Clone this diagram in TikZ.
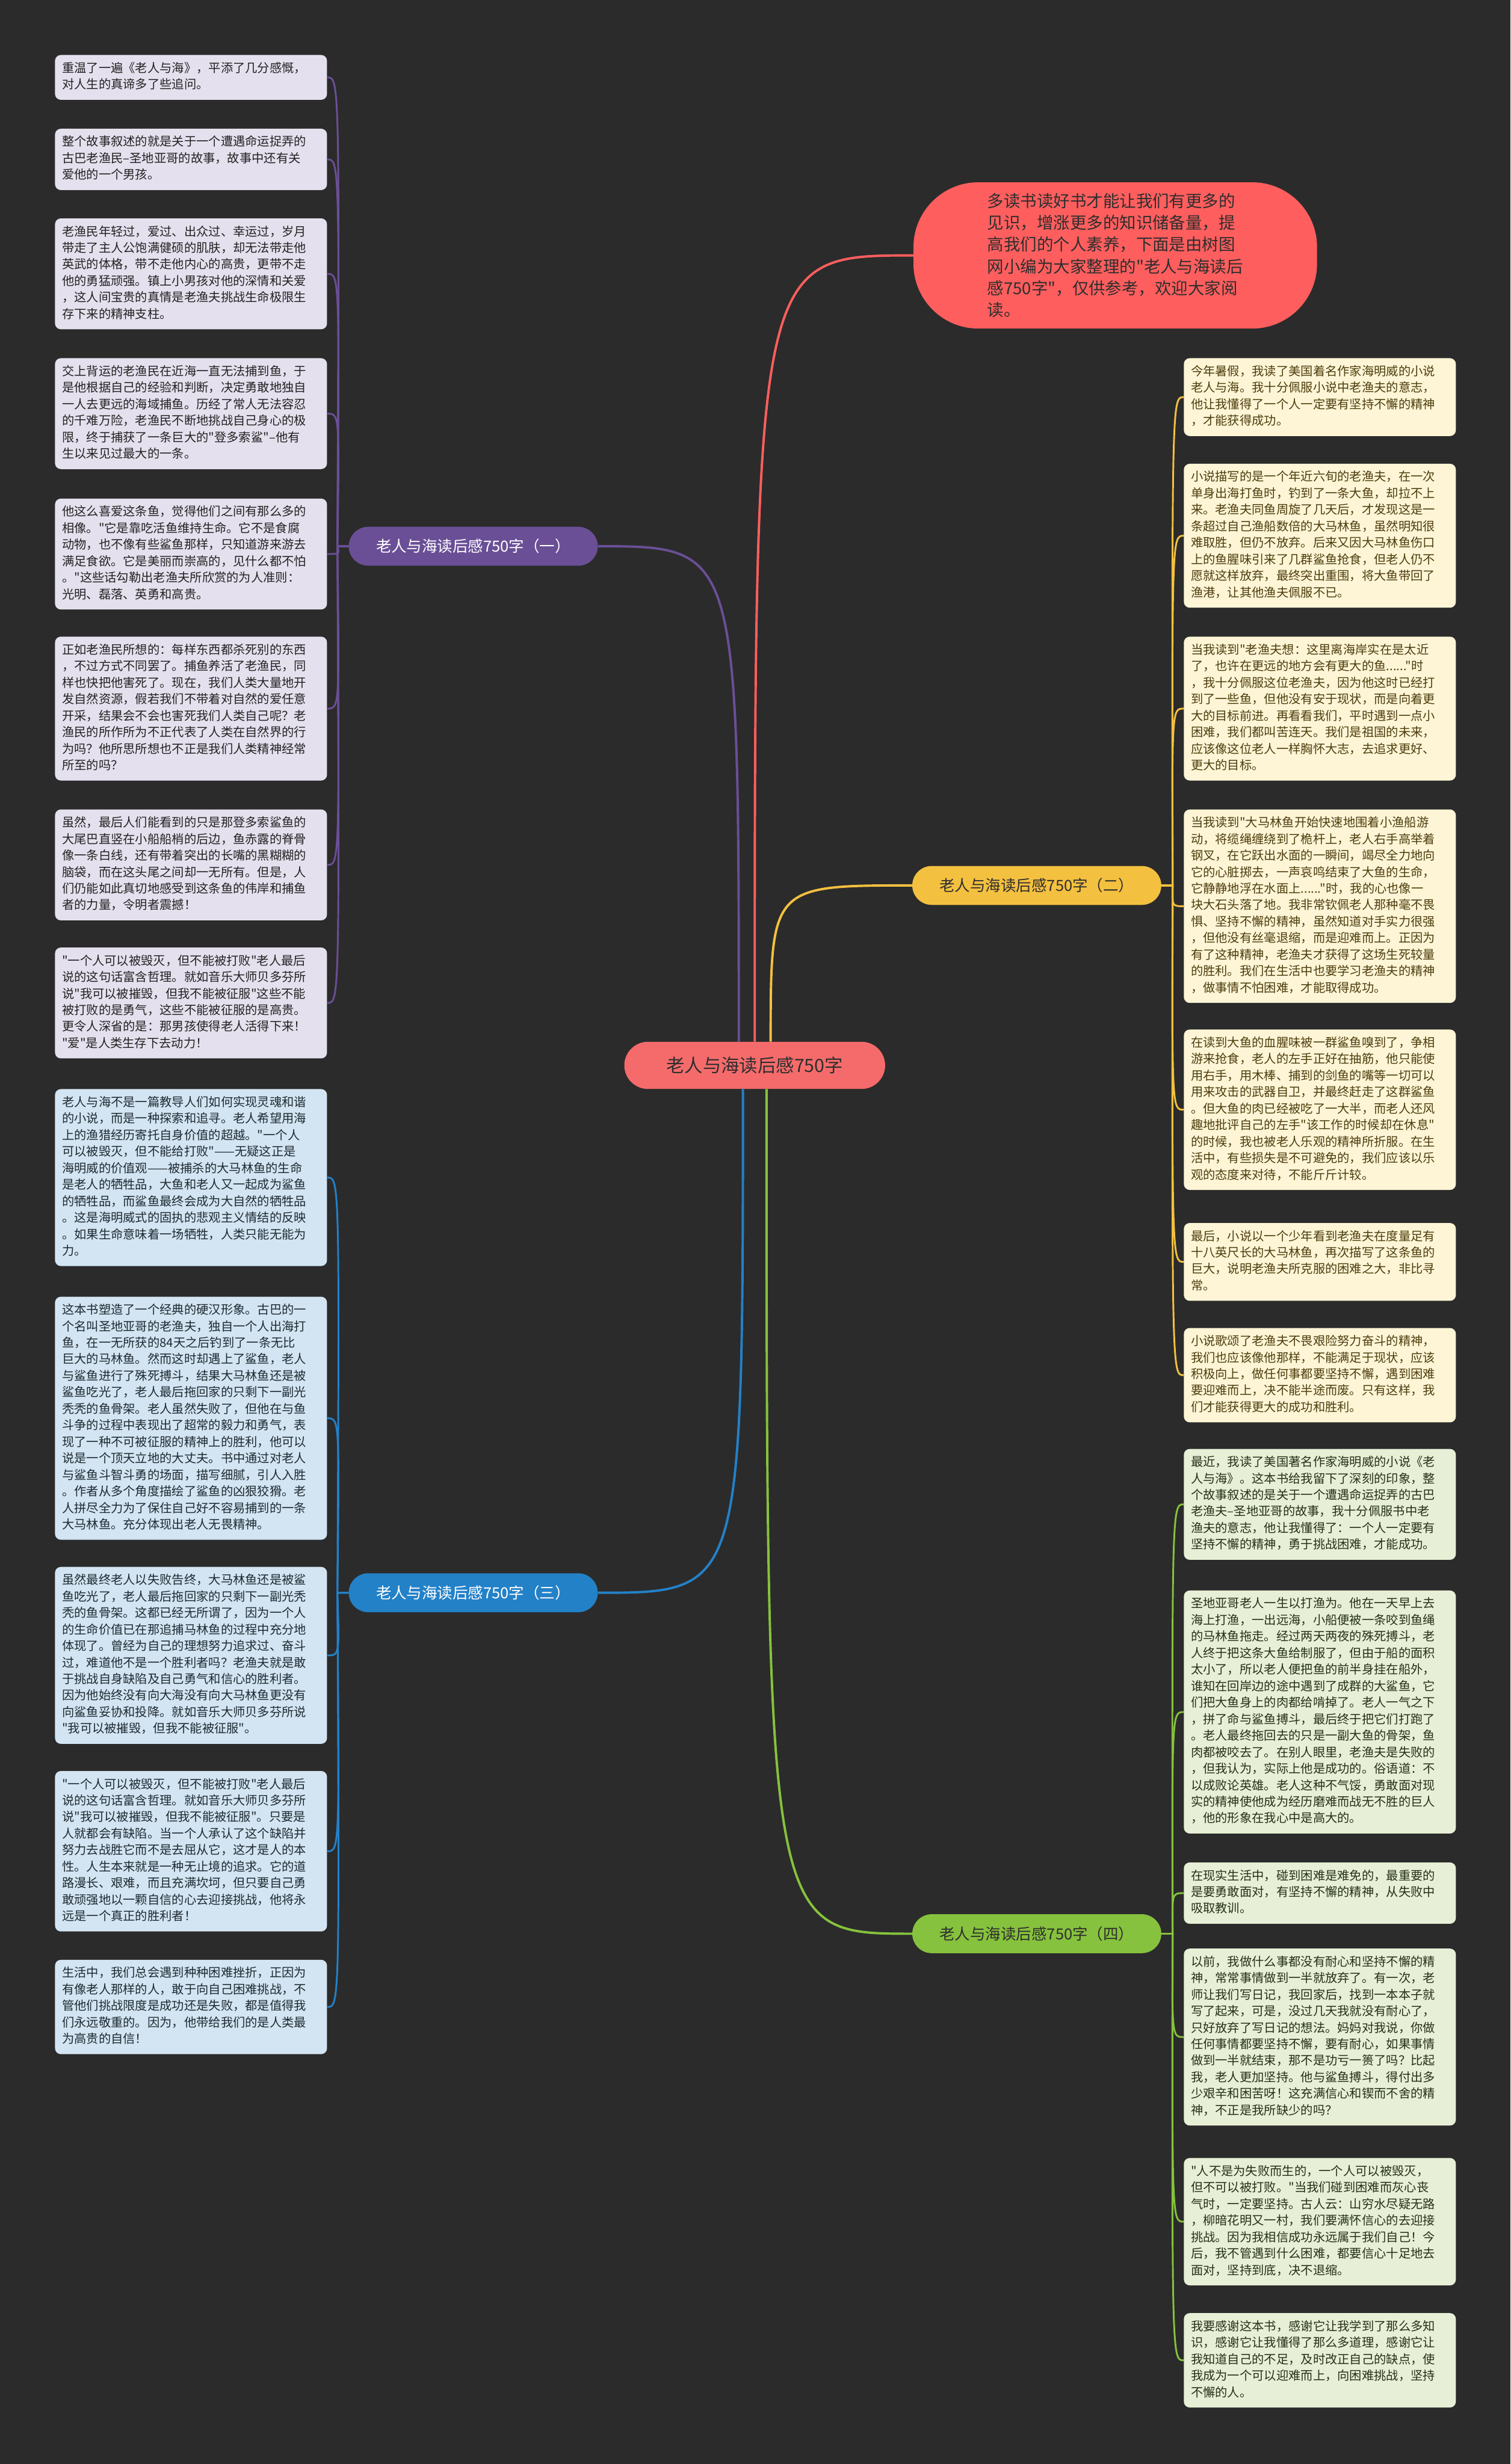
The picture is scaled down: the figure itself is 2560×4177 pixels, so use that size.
\documentclass[tikz,border=0pt]{standalone}
\usepackage{fontspec}
\setmainfont{Noto Sans CJK SC}[Ligatures=TeXOff]
\usetikzlibrary{calc}
\definecolor{bgc}{HTML}{2B2B2B}
\definecolor{cPur}{HTML}{6A4F96}
\definecolor{cGold}{HTML}{F4C03F}
\definecolor{cBlue}{HTML}{2381C8}
\definecolor{cGreen}{HTML}{86C23D}
\definecolor{cRed}{HTML}{FF5E5E}
\definecolor{cCenter}{HTML}{F56B6B}
\definecolor{fLav}{HTML}{E5E0EE}
\definecolor{fCream}{HTML}{FDF5D6}
\definecolor{fBlue}{HTML}{D3E5F2}
\definecolor{fGreen}{HTML}{E7F0D6}
\definecolor{tLav}{HTML}{222222}
\definecolor{tCream}{HTML}{4D3D0D}
\definecolor{tBlue}{HTML}{1E2A33}
\definecolor{tGreen}{HTML}{263018}
\definecolor{tDark}{HTML}{2E2E2E}
\tikzset{
  leaf/.style={draw=none, rounded corners=10pt, anchor=north west,
    inner xsep=12pt, inner ysep=10pt, text width=437pt, align=left,
    font=\fontsize{20.7}{28}\selectfont,
    execute at begin node=\strut, execute at end node=\strut},
  lavbox/.style={leaf, fill=fLav, text=tLav},
  bluebox/.style={leaf, fill=fBlue, text=tBlue},
  creambox/.style={leaf, fill=fCream, text=tCream},
  greenbox/.style={leaf, fill=fGreen, text=tGreen},
  branchbox/.style={draw=none, rounded corners=33pt, minimum width=422pt,
    minimum height=66pt, inner sep=0pt, font=\fontsize{26}{30}\selectfont},
  link/.style={line width=3pt},
  mainlink/.style={line width=4pt}
}
\begin{document}
\begin{tikzpicture}[x=1pt,y=-1pt]
\fill[bgc] (0,0) rectangle (2560,4177);
\useasboundingbox (0,0) rectangle (2560,4177);

% central topic
\node[fill=cCenter, text=tDark, rounded corners=40pt, minimum width=442pt,
  minimum height=80pt, inner sep=0pt, font=\fontsize{31}{36}\selectfont]
  (C) at (1279,1806) {老人与海读后感750字};

% intro bubble
\node[fill=cRed, text=tDark, rounded corners=110pt, minimum width=684pt,
  minimum height=248pt, align=left, font=\fontsize{28}{37}\selectfont]
  (intro) at (1890,433) {多读书读好书才能让我们有更多的\\见识，增涨更多的知识储备量，提\\高我们的个人素养，下面是由树图\\网小编为大家整理的"老人与海读后\\感750字"，仅供参考，欢迎大家阅\\读。};

% branches
\node[branchbox, fill=cPur, text=white] (B1) at (802,926) {老人与海读后感750字（一）};
\node[branchbox, fill=cGold, text=tDark] (B2) at (1757,1501) {老人与海读后感750字（二）};
\node[branchbox, fill=cBlue, text=white] (B3) at (802,2700) {老人与海读后感750字（三）};
\node[branchbox, fill=cGreen, text=tDark] (B4) at (1757,3278) {老人与海读后感750字（四）};

% left boxes, branch 1
\node[lavbox] (L1) at (93,93) {重温了一遍《老人与海》，平添了几分感慨，\\对人生的真谛多了些追问。};
\node[lavbox] (L2) at (93,218) {整个故事叙述的就是关于一个遭遇命运捉弄的\\古巴老渔民–圣地亚哥的故事，故事中还有关\\爱他的一个男孩。};
\node[lavbox] (L3) at (93,370) {老渔民年轻过，爱过、出众过、幸运过，岁月\\带走了主人公饱满健硕的肌肤，却无法带走他\\英武的体格，带不走他内心的高贵，更带不走\\他的勇猛顽强。镇上小男孩对他的深情和关爱\\，这人间宝贵的真情是老渔夫挑战生命极限生\\存下来的精神支柱。};
\node[lavbox] (L4) at (93,607) {交上背运的老渔民在近海一直无法捕到鱼，于\\是他根据自己的经验和判断，决定勇敢地独自\\一人去更远的海域捕鱼。历经了常人无法容忍\\的千难万险，老渔民不断地挑战自己身心的极\\限，终于捕获了一条巨大的"登多索鲨"–他有\\生以来见过最大的一条。};
\node[lavbox] (L5) at (93,845) {他这么喜爱这条鱼，觉得他们之间有那么多的\\相像。"它是靠吃活鱼维持生命。它不是食腐\\动物，也不像有些鲨鱼那样，只知道游来游去\\满足食欲。它是美丽而崇高的，见什么都不怕\\。"这些话勾勒出老渔夫所欣赏的为人准则：\\光明、磊落、英勇和高贵。};
\node[lavbox] (L6) at (93,1079) {正如老渔民所想的：每样东西都杀死别的东西\\，不过方式不同罢了。捕鱼养活了老渔民，同\\样也快把他害死了。现在，我们人类大量地开\\发自然资源，假若我们不带着对自然的爱任意\\开采，结果会不会也害死我们人类自己呢？老\\渔民的所作所为不正代表了人类在自然界的行\\为吗？他所思所想也不正是我们人类精神经常\\所至的吗？};
\node[lavbox] (L7) at (93,1372) {虽然，最后人们能看到的只是那登多索鲨鱼的\\大尾巴直竖在小船船梢的后边，鱼赤露的脊骨\\像一条白线，还有带着突出的长嘴的黑糊糊的\\脑袋，而在这头尾之间却一无所有。但是，人\\们仍能如此真切地感受到这条鱼的伟岸和捕鱼\\者的力量，令明者震撼！};
\node[lavbox] (L8) at (93,1606) {"一个人可以被毁灭，但不能被打败"老人最后\\说的这句话富含哲理。就如音乐大师贝多芬所\\说"我可以被摧毁，但我不能被征服"这些不能\\被打败的是勇气，这些不能被征服的是高贵。\\更令人深省的是：那男孩使得老人活得下来！\\"爱"是人类生存下去动力！};

% left boxes, branch 3
\node[bluebox] (L9) at (93,1846) {老人与海不是一篇教导人们如何实现灵魂和谐\\的小说，而是一种探索和追寻。老人希望用海\\上的渔猎经历寄托自身价值的超越。"一个人\\可以被毁灭，但不能给打败"——无疑这正是\\海明威的价值观——被捕杀的大马林鱼的生命\\是老人的牺牲品，大鱼和老人又一起成为鲨鱼\\的牺牲品，而鲨鱼最终会成为大自然的牺牲品\\。这是海明威式的固执的悲观主义情结的反映\\。如果生命意味着一场牺牲，人类只能无能为\\力。};
\node[bluebox] (L10) at (93,2198) {这本书塑造了一个经典的硬汉形象。古巴的一\\个名叫圣地亚哥的老渔夫，独自一个人出海打\\鱼，在一无所获的84天之后钓到了一条无比\\巨大的马林鱼。然而这时却遇上了鲨鱼，老人\\与鲨鱼进行了殊死搏斗，结果大马林鱼还是被\\鲨鱼吃光了，老人最后拖回家的只剩下一副光\\秃秃的鱼骨架。老人虽然失败了，但他在与鱼\\斗争的过程中表现出了超常的毅力和勇气，表\\现了一种不可被征服的精神上的胜利，他可以\\说是一个顶天立地的大丈夫。书中通过对老人\\与鲨鱼斗智斗勇的场面，描写细腻，引人入胜\\。作者从多个角度描绘了鲨鱼的凶狠狡猾。老\\人拼尽全力为了保住自己好不容易捕到的一条\\大马林鱼。充分体现出老人无畏精神。};
\node[bluebox] (L11) at (93,2656) {虽然最终老人以失败告终，大马林鱼还是被鲨\\鱼吃光了，老人最后拖回家的只剩下一副光秃\\秃的鱼骨架。这都已经无所谓了，因为一个人\\的生命价值已在那追捕马林鱼的过程中充分地\\体现了。曾经为自己的理想努力追求过、奋斗\\过，难道他不是一个胜利者吗？老渔夫就是敢\\于挑战自身缺陷及自己勇气和信心的胜利者。\\因为他始终没有向大海没有向大马林鱼更没有\\向鲨鱼妥协和投降。就如音乐大师贝多芬所说\\"我可以被摧毁，但我不能被征服"。};
\node[bluebox] (L12) at (93,3002) {"一个人可以被毁灭，但不能被打败"老人最后\\说的这句话富含哲理。就如音乐大师贝多芬所\\说"我可以被摧毁，但我不能被征服"。只要是\\人就都会有缺陷。当一个人承认了这个缺陷并\\努力去战胜它而不是去屈从它，这才是人的本\\性。人生本来就是一种无止境的追求。它的道\\路漫长、艰难，而且充满坎坷，但只要自己勇\\敢顽强地以一颗自信的心去迎接挑战，他将永\\远是一个真正的胜利者！};
\node[bluebox] (L13) at (93,3322) {生活中，我们总会遇到种种困难挫折，正因为\\有像老人那样的人，敢于向自己困难挑战，不\\管他们挑战限度是成功还是失败，都是值得我\\们永远敬重的。因为，他带给我们的是人类最\\为高贵的自信！};

% right boxes, branch 2
\node[creambox] (R1) at (2006,607) {今年暑假，我读了美国着名作家海明威的小说\\老人与海。我十分佩服小说中老渔夫的意志，\\他让我懂得了一个人一定要有坚持不懈的精神\\，才能获得成功。};
\node[creambox] (R2) at (2006,786) {小说描写的是一个年近六旬的老渔夫，在一次\\单身出海打鱼时，钓到了一条大鱼，却拉不上\\来。老渔夫同鱼周旋了几天后，才发现这是一\\条超过自己渔船数倍的大马林鱼，虽然明知很\\难取胜，但仍不放弃。后来又因大马林鱼伤口\\上的鱼腥味引来了几群鲨鱼抢食，但老人仍不\\愿就这样放弃，最终突出重围，将大鱼带回了\\渔港，让其他渔夫佩服不已。};
\node[creambox] (R3) at (2006,1079) {当我读到"老渔夫想：这里离海岸实在是太近\\了，也许在更远的地方会有更大的鱼......"时\\，我十分佩服这位老渔夫，因为他这时已经打\\到了一些鱼，但他没有安于现状，而是向着更\\大的目标前进。再看看我们，平时遇到一点小\\困难，我们都叫苦连天。我们是祖国的未来，\\应该像这位老人一样胸怀大志，去追求更好、\\更大的目标。};
\node[creambox] (R4) at (2006,1372) {当我读到"大马林鱼开始快速地围着小渔船游\\动，将缆绳缠绕到了桅杆上，老人右手高举着\\钢叉，在它跃出水面的一瞬间，竭尽全力地向\\它的心脏掷去，一声哀鸣结束了大鱼的生命，\\它静静地浮在水面上......"时，我的心也像一\\块大石头落了地。我非常钦佩老人那种毫不畏\\惧、坚持不懈的精神，虽然知道对手实力很强\\，但他没有丝毫退缩，而是迎难而上。正因为\\有了这种精神，老渔夫才获得了这场生死较量\\的胜利。我们在生活中也要学习老渔夫的精神\\，做事情不怕困难，才能取得成功。};
\node[creambox] (R5) at (2006,1745) {在读到大鱼的血腥味被一群鲨鱼嗅到了，争相\\游来抢食，老人的左手正好在抽筋，他只能使\\用右手，用木棒、捕到的剑鱼的嘴等一切可以\\用来攻击的武器自卫，并最终赶走了这群鲨鱼\\。但大鱼的肉已经被吃了一大半，而老人还风\\趣地批评自己的左手"该工作的时候却在休息"\\的时候，我也被老人乐观的精神所折服。在生\\活中，有些损失是不可避免的，我们应该以乐\\观的态度来对待，不能斤斤计较。};
\node[creambox] (R6) at (2006,2073) {最后，小说以一个少年看到老渔夫在度量足有\\十八英尺长的大马林鱼，再次描写了这条鱼的\\巨大，说明老渔夫所克服的困难之大，非比寻\\常。};
\node[creambox] (R7) at (2006,2251) {小说歌颂了老渔夫不畏艰险努力奋斗的精神，\\我们也应该像他那样，不能满足于现状，应该\\积极向上，做任何事都要坚持不懈，遇到困难\\要迎难而上，决不能半途而废。只有这样，我\\们才能获得更大的成功和胜利。};

% right boxes, branch 4
\node[greenbox] (R8) at (2006,2456) {最近，我读了美国著名作家海明威的小说《老\\人与海》。这本书给我留下了深刻的印象，整\\个故事叙述的是关于一个遭遇命运捉弄的古巴\\老渔夫–圣地亚哥的故事，我十分佩服书中老\\渔夫的意志，他让我懂得了：一个人一定要有\\坚持不懈的精神，勇于挑战困难，才能成功。};
\node[greenbox] (R9) at (2006,2696) {圣地亚哥老人一生以打渔为。他在一天早上去\\海上打渔，一出远海，小船便被一条咬到鱼绳\\的马林鱼拖走。经过两天两夜的殊死搏斗，老\\人终于把这条大鱼给制服了，但由于船的面积\\太小了，所以老人便把鱼的前半身挂在船外，\\谁知在回岸边的途中遇到了成群的大鲨鱼，它\\们把大鱼身上的肉都给啃掉了。老人一气之下\\，拼了命与鲨鱼搏斗，最后终于把它们打跑了\\。老人最终拖回去的只是一副大鱼的骨架，鱼\\肉都被咬去了。在别人眼里，老渔夫是失败的\\，但我认为，实际上他是成功的。俗语道：不\\以成败论英雄。老人这种不气馁，勇敢面对现\\实的精神使他成为经历磨难而战无不胜的巨人\\，他的形象在我心中是高大的。};
\node[greenbox] (R10) at (2006,3157) {在现实生活中，碰到困难是难免的，最重要的\\是要勇敢面对，有坚持不懈的精神，从失败中\\吸取教训。};
\node[greenbox] (R11) at (2006,3303) {以前，我做什么事都没有耐心和坚持不懈的精\\神，常常事情做到一半就放弃了。有一次，老\\师让我们写日记，我回家后，找到一本本子就\\写了起来，可是，没过几天我就没有耐心了，\\只好放弃了写日记的想法。妈妈对我说，你做\\任何事情都要坚持不懈，要有耐心，如果事情\\做到一半就结束，那不是功亏一篑了吗？比起\\我，老人更加坚持。他与鲨鱼搏斗，得付出多\\少艰辛和困苦呀！这充满信心和锲而不舍的精\\神，不正是我所缺少的吗？};
\node[greenbox] (R12) at (2006,3658) {"人不是为失败而生的，一个人可以被毁灭，\\但不可以被打败。"当我们碰到困难而灰心丧\\气时，一定要坚持。古人云：山穷水尽疑无路\\，柳暗花明又一村，我们要满怀信心的去迎接\\挑战。因为我相信成功永远属于我们自己！今\\后，我不管遇到什么困难，都要信心十足地去\\面对，坚持到底，决不退缩。};
\node[greenbox] (R13) at (2006,3921) {我要感谢这本书，感谢它让我学到了那么多知\\识，感谢它让我懂得了那么多道理，感谢它让\\我知道自己的不足，及时改正自己的缺点，使\\我成为一个可以迎难而上，向困难挑战，坚持\\不懈的人。};

% central connectors
\coordinate (cP) at ($(C.north)+(-27,0)$);
\coordinate (cR) at (C.north);
\coordinate (cG) at ($(C.north)+(27,0)$);
\coordinate (cB) at ($(C.south)+(-20,0)$);
\coordinate (cE) at ($(C.south)+(20,0)$);
\draw[mainlink, cPur] (cP) .. controls (cP |- B1.east) .. (B1.east);
\draw[mainlink, cRed] (cR) .. controls (cR |- intro.west) .. (intro.west);
\draw[mainlink, cGold] (cG) .. controls (cG |- B2.west) .. (B2.west);
\draw[mainlink, cBlue] (cB) .. controls (cB |- B3.east) .. (B3.east);
\draw[mainlink, cGreen] (cE) .. controls (cE |- B4.west) .. (B4.west);

% branch connectors
\foreach \n in {L1,L2,L3,L4,L5,L6,L7,L8}
  \draw[link, cPur] (B1.west) -- ++(-19,0) .. controls ($(\n.east)+(21,0)$) .. (\n.east);
\foreach \n in {L9,L10,L11,L12,L13}
  \draw[link, cBlue] (B3.west) -- ++(-19,0) .. controls ($(\n.east)+(21,0)$) .. (\n.east);
\foreach \n in {R1,R2,R3,R4,R5,R6,R7}
  \draw[link, cGold] (B2.east) -- ++(19,0) .. controls ($(\n.west)+(-20,0)$) .. (\n.west);
\foreach \n in {R8,R9,R10,R11,R12,R13}
  \draw[link, cGreen] (B4.east) -- ++(19,0) .. controls ($(\n.west)+(-20,0)$) .. (\n.west);
\end{tikzpicture}
\end{document}
